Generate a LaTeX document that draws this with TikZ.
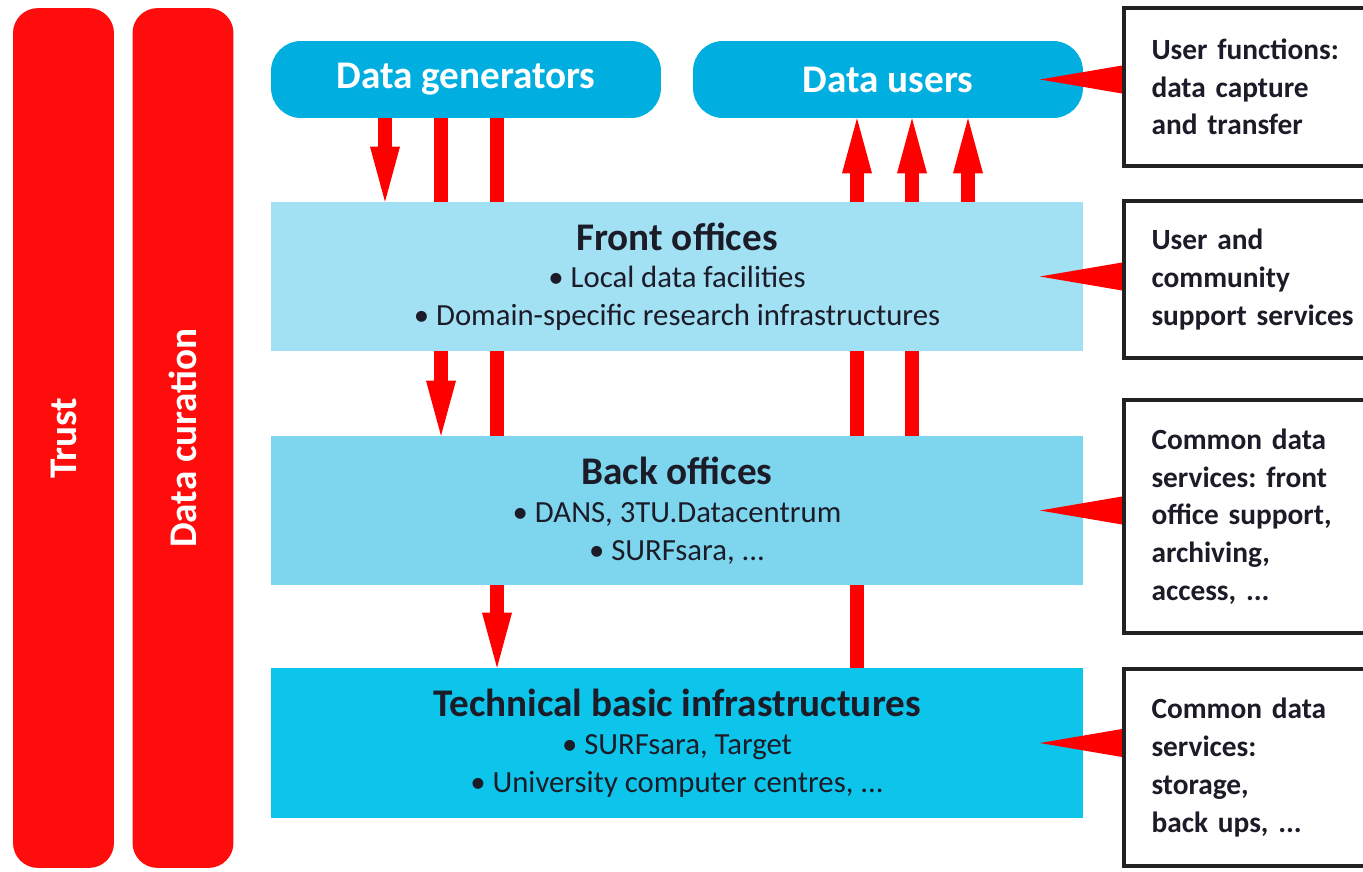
\documentclass[tikz,border=0pt]{standalone}
\usepackage{fontspec}
\setmainfont{Carlito}
\usetikzlibrary{arrows.meta,calc,positioning}

\definecolor{barred}{HTML}{FF0D0D}
\definecolor{flowred}{HTML}{FF0000}
\definecolor{srcblue}{HTML}{00AEDF}
\definecolor{frontblue}{HTML}{A2E0F4}
\definecolor{backblue}{HTML}{7DD5EE}
\definecolor{techblue}{HTML}{0DC5EA}
\definecolor{ink}{HTML}{1C1C28}
\definecolor{edge}{HTML}{222222}

\newcommand\headfont{\fontsize{22.3}{26}\selectfont\bfseries}
\newcommand\bodyfont{\fontsize{17.5}{21.5}\selectfont}
\newcommand\notefont{\fontsize{16.7}{21.5}\selectfont\bfseries}
\frenchspacing

\pgfdeclarelayer{bg}
\pgfsetlayers{bg,main}

\begin{document}
\begin{tikzpicture}[x=0.02cm,y=-0.02cm,
    bar/.style={fill=barred,rounded corners=0.5cm,rotate=90,minimum width=17.2cm,minimum height=2.02cm,inner sep=0pt,text=white,font=\headfont},
    source/.style={fill=srcblue,rounded corners=0.6cm,minimum width=7.8cm,minimum height=1.54cm,inner sep=0pt,text=white,font=\headfont},
    office/.style={minimum width=16.24cm,minimum height=2.98cm,inner sep=0pt,align=center,font=\bodyfont,text=ink},
    note/.style={draw=edge,line width=0.08cm,fill=white,anchor=west,text width=4.6cm,inner xsep=0.55cm,align=left,font=\notefont,text=ink},
    flow/.style={draw=flowred,line width=0.28cm,-{Triangle[length=1.1cm,width=0.6cm,line width=0pt]}},
    link/.style={draw=flowred,line width=0.28cm},
    pointer/.style={fill=flowred}]
    \useasboundingbox (0,0) rectangle (1363,872);
    \clip (0,0) rectangle (1363,872);

    % side bars
    \node[bar] (trust) at (63.5,438) {Trust};
    \node[bar] (curation) at (183,438) {Data curation};

    % layers
    \node[source] (gen) at (466,79.5) {Data generators};
    \node[source] (users) at (888,79.5) {Data users};
    \node[office,fill=frontblue] (front) at (677,276.5) {{\headfont Front offices}\\ \textbullet\ Local data facilities\\ \textbullet\ Domain-specific research infrastructures};
    \node[office,fill=backblue] (back) at (677,510.5) {{\headfont Back offices}\\ \textbullet\ DANS, 3TU.Datacentrum\\ \textbullet\ SURFsara, ...};
    \node[office,fill=techblue,minimum height=3cm] (tech) at (677,743) {{\headfont Technical basic infrastructures}\\ \textbullet\ SURFsara, Target\\ \textbullet\ University computer centres, ...};

    % flows, behind the boxes
    \coordinate (g1) at (385,0);
    \coordinate (g2) at (441,0);
    \coordinate (g3) at (497,0);
    \coordinate (u1) at (857,0);
    \coordinate (u2) at (912,0);
    \coordinate (u3) at (968,0);
    \begin{pgfonlayer}{bg}
        \draw[flow] (gen.south -| g1) -- (front.north -| g1);
        \draw[flow] (gen.south -| g2) -- (back.north -| g2);
        \draw[flow] (gen.south -| g3) -- (tech.north -| g3);
        \draw[flow] (tech.north -| u1) -- (users.south -| u1);
        \draw[flow] (back.north -| u2) -- (users.south -| u2);
        \draw[flow] (front.north -| u3) -- (users.south -| u3);
    \end{pgfonlayer}

    % pointers to the notes
    \coordinate (tip) at (1040,0);
    \coordinate (base) at (1122,0);
    \foreach \src in {users,front,back,tech}
        \fill[pointer] (\src.center -| tip) -- ($(\src.center -| base)+(0,-14)$) -- ($(\src.center -| base)+(0,14)$) -- cycle;

    % notes
    \node[note,minimum height=3.16cm] (n1) at (1122,87) {User functions:\\ data capture\\ and transfer};
    \node[note,minimum height=3.14cm] (n2) at (1122,279.5) {User and\\ community\\ support services};
    \node[note,minimum height=4.66cm] (n3) at (1122,516.5) {Common data\\ services: front\\ office support,\\ archiving,\\ access, ...};
    \node[note,minimum height=3.94cm] (n4) at (1122,767.5) {Common data\\ services:\\ storage,\\ back ups, ...};
\end{tikzpicture}
\end{document}
